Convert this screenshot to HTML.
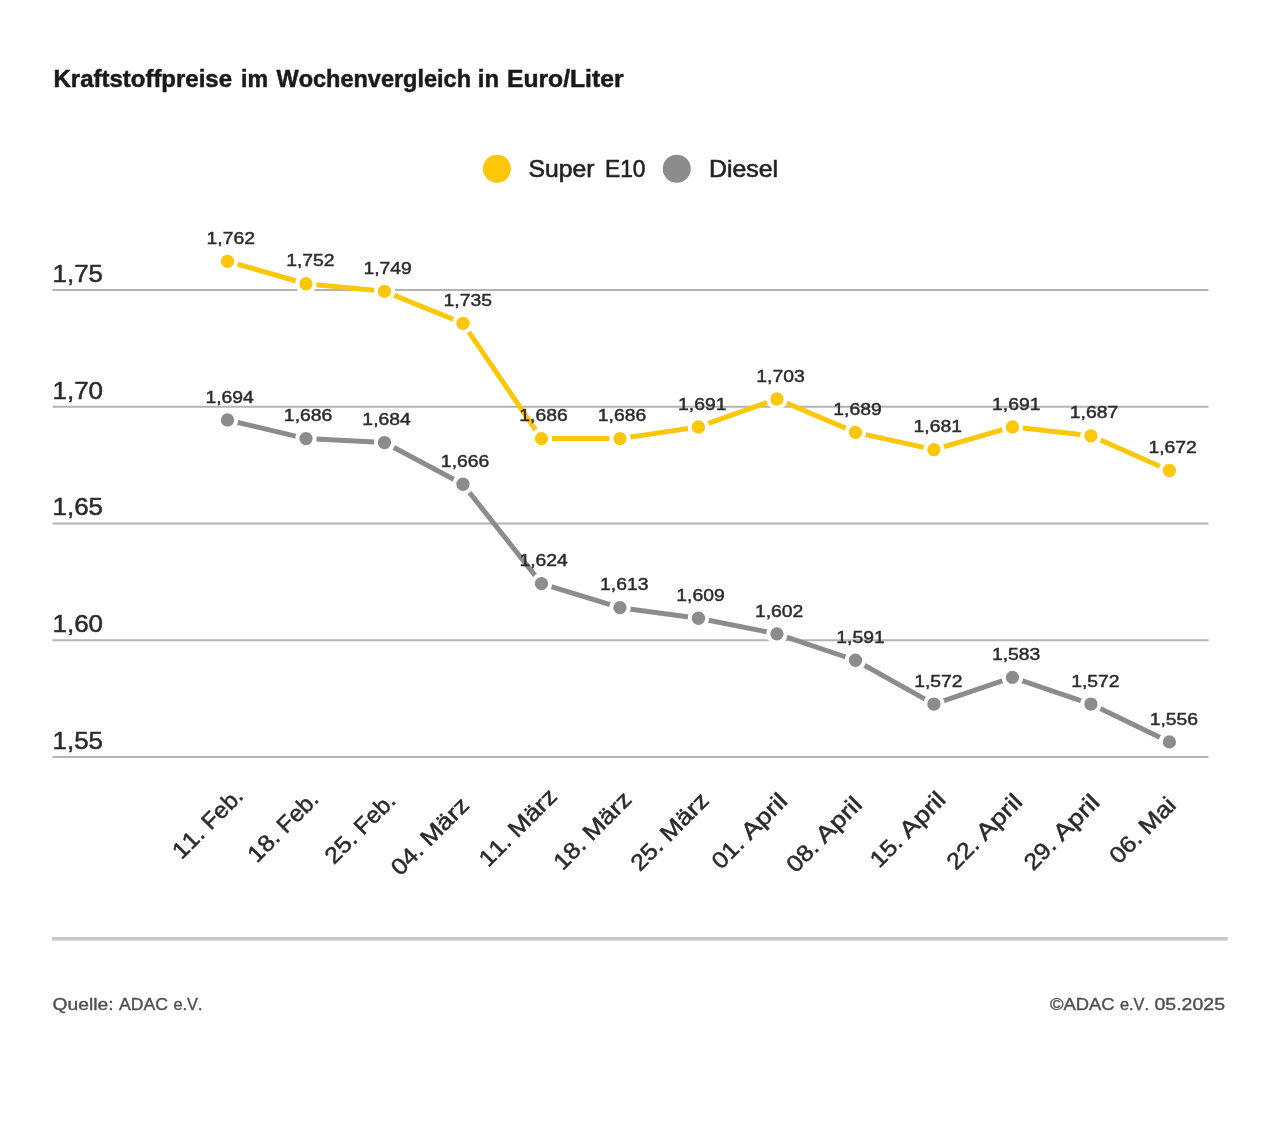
<!DOCTYPE html>
<html lang="de"><head><meta charset="utf-8"><title>Kraftstoffpreise im Wochenvergleich</title>
<style>html,body{margin:0;padding:0;background:#fff}svg{display:block}text{font-family:"Liberation Sans", sans-serif;font-kerning:none}</style></head><body>
<svg width="1280" height="1122" viewBox="0 0 1280 1122">
<rect width="1280" height="1122" fill="#fff"/>
<g font-size="24" font-weight="bold" fill="#1a1a1a" stroke="#1a1a1a" stroke-width="0.5">
<text y="86.75"><tspan x="53.50" textLength="178.50" lengthAdjust="spacingAndGlyphs">Kraftstoffpreise</tspan> <tspan x="241.00" textLength="27.00" lengthAdjust="spacingAndGlyphs">im</tspan> <tspan x="276.50" textLength="194.50" lengthAdjust="spacingAndGlyphs">Wochenvergleich</tspan> <tspan x="477.75" textLength="21.25" lengthAdjust="spacingAndGlyphs">in</tspan> <tspan x="507.00" textLength="116.50" lengthAdjust="spacingAndGlyphs">Euro/Liter</tspan></text>
</g>
<circle cx="497" cy="168.75" r="14" fill="#fcc708"/>
<circle cx="676.75" cy="168.75" r="14" fill="#8c8c8c"/>
<g font-size="24" fill="#222" stroke="#222" stroke-width="0.6">
<text y="177"><tspan x="528.5" textLength="66" lengthAdjust="spacingAndGlyphs">Super</tspan> <tspan x="605" textLength="40.5" lengthAdjust="spacingAndGlyphs">E10</tspan></text>
<text x="709" y="177" textLength="69" lengthAdjust="spacingAndGlyphs">Diesel</text>
</g>
<g stroke="#b4b4b4" stroke-width="2">
<line x1="52.5" x2="1208.5" y1="290.00" y2="290.00"/>
<line x1="52.5" x2="1208.5" y1="406.75" y2="406.75"/>
<line x1="52.5" x2="1208.5" y1="523.50" y2="523.50"/>
<line x1="52.5" x2="1208.5" y1="640.25" y2="640.25"/>
<line x1="52.5" x2="1208.5" y1="757.00" y2="757.00"/>
</g>
<g font-size="24" fill="#2b2b2b" stroke="#2b2b2b" stroke-width="0.5">
<text x="52.5" y="281.80" textLength="50.5" lengthAdjust="spacingAndGlyphs">1,75</text>
<text x="52.5" y="398.55" textLength="50.5" lengthAdjust="spacingAndGlyphs">1,70</text>
<text x="52.5" y="515.30" textLength="50.5" lengthAdjust="spacingAndGlyphs">1,65</text>
<text x="52.5" y="632.05" textLength="50.5" lengthAdjust="spacingAndGlyphs">1,60</text>
<text x="52.5" y="748.80" textLength="50.5" lengthAdjust="spacingAndGlyphs">1,55</text>
</g>
<polyline points="227.50,419.95 305.99,438.61 384.48,442.53 462.98,484.27 541.47,583.66 619.96,607.67 698.45,618.25 776.94,633.83 855.43,660.25 933.93,704.07 1012.42,677.41 1090.91,704.07 1169.40,741.90" fill="none" stroke="#8c8c8c" stroke-width="5" stroke-linejoin="round"/>
<circle cx="227.50" cy="419.95" r="8.65" fill="#8c8c8c" stroke="#fff" stroke-width="4"/>
<circle cx="305.99" cy="438.61" r="8.65" fill="#8c8c8c" stroke="#fff" stroke-width="4"/>
<circle cx="384.48" cy="442.53" r="8.65" fill="#8c8c8c" stroke="#fff" stroke-width="4"/>
<circle cx="462.98" cy="484.27" r="8.65" fill="#8c8c8c" stroke="#fff" stroke-width="4"/>
<circle cx="541.47" cy="583.66" r="8.65" fill="#8c8c8c" stroke="#fff" stroke-width="4"/>
<circle cx="619.96" cy="607.67" r="8.65" fill="#8c8c8c" stroke="#fff" stroke-width="4"/>
<circle cx="698.45" cy="618.25" r="8.65" fill="#8c8c8c" stroke="#fff" stroke-width="4"/>
<circle cx="776.94" cy="633.83" r="8.65" fill="#8c8c8c" stroke="#fff" stroke-width="4"/>
<circle cx="855.43" cy="660.25" r="8.65" fill="#8c8c8c" stroke="#fff" stroke-width="4"/>
<circle cx="933.93" cy="704.07" r="8.65" fill="#8c8c8c" stroke="#fff" stroke-width="4"/>
<circle cx="1012.42" cy="677.41" r="8.65" fill="#8c8c8c" stroke="#fff" stroke-width="4"/>
<circle cx="1090.91" cy="704.07" r="8.65" fill="#8c8c8c" stroke="#fff" stroke-width="4"/>
<circle cx="1169.40" cy="741.90" r="8.65" fill="#8c8c8c" stroke="#fff" stroke-width="4"/>
<polyline points="227.50,261.30 305.99,283.73 384.48,291.33 462.98,323.29 541.47,438.61 619.96,438.61 698.45,426.95 776.94,398.95 855.43,432.36 933.93,449.68 1012.42,426.95 1090.91,435.78 1169.40,470.52" fill="none" stroke="#fcc708" stroke-width="5" stroke-linejoin="round"/>
<circle cx="227.50" cy="261.30" r="8.65" fill="#fcc708" stroke="#fff" stroke-width="4"/>
<circle cx="305.99" cy="283.73" r="8.65" fill="#fcc708" stroke="#fff" stroke-width="4"/>
<circle cx="384.48" cy="291.33" r="8.65" fill="#fcc708" stroke="#fff" stroke-width="4"/>
<circle cx="462.98" cy="323.29" r="8.65" fill="#fcc708" stroke="#fff" stroke-width="4"/>
<circle cx="541.47" cy="438.61" r="8.65" fill="#fcc708" stroke="#fff" stroke-width="4"/>
<circle cx="619.96" cy="438.61" r="8.65" fill="#fcc708" stroke="#fff" stroke-width="4"/>
<circle cx="698.45" cy="426.95" r="8.65" fill="#fcc708" stroke="#fff" stroke-width="4"/>
<circle cx="776.94" cy="398.95" r="8.65" fill="#fcc708" stroke="#fff" stroke-width="4"/>
<circle cx="855.43" cy="432.36" r="8.65" fill="#fcc708" stroke="#fff" stroke-width="4"/>
<circle cx="933.93" cy="449.68" r="8.65" fill="#fcc708" stroke="#fff" stroke-width="4"/>
<circle cx="1012.42" cy="426.95" r="8.65" fill="#fcc708" stroke="#fff" stroke-width="4"/>
<circle cx="1090.91" cy="435.78" r="8.65" fill="#fcc708" stroke="#fff" stroke-width="4"/>
<circle cx="1169.40" cy="470.52" r="8.65" fill="#fcc708" stroke="#fff" stroke-width="4"/>
<g font-size="17" fill="#2b2b2b" stroke="#2b2b2b" stroke-width="0.45" text-anchor="middle">
<text x="229.60" y="402.65" textLength="48.4" lengthAdjust="spacingAndGlyphs">1,694</text>
<text x="308.09" y="421.31" textLength="48.4" lengthAdjust="spacingAndGlyphs">1,686</text>
<text x="386.58" y="425.23" textLength="48.4" lengthAdjust="spacingAndGlyphs">1,684</text>
<text x="465.08" y="466.97" textLength="48.4" lengthAdjust="spacingAndGlyphs">1,666</text>
<text x="543.67" y="566.36" textLength="48.4" lengthAdjust="spacingAndGlyphs">1,624</text>
<text x="624.21" y="590.37" textLength="48.4" lengthAdjust="spacingAndGlyphs">1,613</text>
<text x="700.55" y="600.95" textLength="48.4" lengthAdjust="spacingAndGlyphs">1,609</text>
<text x="779.14" y="616.53" textLength="48.4" lengthAdjust="spacingAndGlyphs">1,602</text>
<text x="860.48" y="642.95" textLength="48.4" lengthAdjust="spacingAndGlyphs">1,591</text>
<text x="938.38" y="686.77" textLength="48.4" lengthAdjust="spacingAndGlyphs">1,572</text>
<text x="1016.12" y="660.11" textLength="48.4" lengthAdjust="spacingAndGlyphs">1,583</text>
<text x="1095.36" y="686.77" textLength="48.4" lengthAdjust="spacingAndGlyphs">1,572</text>
<text x="1173.90" y="724.60" textLength="48.4" lengthAdjust="spacingAndGlyphs">1,556</text>
<text x="230.75" y="244.00" textLength="48.4" lengthAdjust="spacingAndGlyphs">1,762</text>
<text x="310.44" y="266.43" textLength="48.4" lengthAdjust="spacingAndGlyphs">1,752</text>
<text x="387.63" y="274.03" textLength="48.4" lengthAdjust="spacingAndGlyphs">1,749</text>
<text x="467.73" y="305.99" textLength="48.4" lengthAdjust="spacingAndGlyphs">1,735</text>
<text x="543.57" y="421.31" textLength="48.4" lengthAdjust="spacingAndGlyphs">1,686</text>
<text x="622.06" y="421.31" textLength="48.4" lengthAdjust="spacingAndGlyphs">1,686</text>
<text x="702.30" y="409.65" textLength="48.4" lengthAdjust="spacingAndGlyphs">1,691</text>
<text x="780.49" y="381.65" textLength="48.4" lengthAdjust="spacingAndGlyphs">1,703</text>
<text x="857.53" y="415.06" textLength="48.4" lengthAdjust="spacingAndGlyphs">1,689</text>
<text x="937.78" y="432.38" textLength="48.4" lengthAdjust="spacingAndGlyphs">1,681</text>
<text x="1016.27" y="409.65" textLength="48.4" lengthAdjust="spacingAndGlyphs">1,691</text>
<text x="1094.06" y="418.48" textLength="48.4" lengthAdjust="spacingAndGlyphs">1,687</text>
<text x="1172.65" y="453.22" textLength="48.4" lengthAdjust="spacingAndGlyphs">1,672</text>
</g>
<g font-size="23" fill="#2b2b2b" stroke="#2b2b2b" stroke-width="0.5">
<text transform="translate(203.65 838.15) rotate(-45)"><tspan x="-31.37" y="0" textLength="34.86" lengthAdjust="spacingAndGlyphs">11.</tspan> <tspan x="10.00" y="0" textLength="47.80" lengthAdjust="spacingAndGlyphs">Feb.</tspan></text>
<text transform="translate(279.00 841.50) rotate(-45)"><tspan x="-31.37" y="0" textLength="34.86" lengthAdjust="spacingAndGlyphs">18.</tspan> <tspan x="10.00" y="0" textLength="47.80" lengthAdjust="spacingAndGlyphs">Feb.</tspan></text>
<text transform="translate(356.15 843.00) rotate(-45)"><tspan x="-31.37" y="0" textLength="34.86" lengthAdjust="spacingAndGlyphs">25.</tspan> <tspan x="10.00" y="0" textLength="47.80" lengthAdjust="spacingAndGlyphs">Feb.</tspan></text>
<text transform="translate(422.40 854.65) rotate(-45)"><tspan x="-31.37" y="0" textLength="34.86" lengthAdjust="spacingAndGlyphs">04.</tspan> <tspan x="10.00" y="0" textLength="58.10" lengthAdjust="spacingAndGlyphs">März</tspan></text>
<text transform="translate(510.30 845.90) rotate(-45)"><tspan x="-31.37" y="0" textLength="34.86" lengthAdjust="spacingAndGlyphs">11.</tspan> <tspan x="10.00" y="0" textLength="58.10" lengthAdjust="spacingAndGlyphs">März</tspan></text>
<text transform="translate(584.90 849.00) rotate(-45)"><tspan x="-31.37" y="0" textLength="34.86" lengthAdjust="spacingAndGlyphs">18.</tspan> <tspan x="10.00" y="0" textLength="58.10" lengthAdjust="spacingAndGlyphs">März</tspan></text>
<text transform="translate(662.15 850.00) rotate(-45)"><tspan x="-31.37" y="0" textLength="34.86" lengthAdjust="spacingAndGlyphs">25.</tspan> <tspan x="10.00" y="0" textLength="58.10" lengthAdjust="spacingAndGlyphs">März</tspan></text>
<text transform="translate(743.15 848.15) rotate(-45)"><tspan x="-31.37" y="0" textLength="34.86" lengthAdjust="spacingAndGlyphs">01.</tspan> <tspan x="10.00" y="0" textLength="54.50" lengthAdjust="spacingAndGlyphs">April</tspan></text>
<text transform="translate(817.80 851.50) rotate(-45)"><tspan x="-31.37" y="0" textLength="34.86" lengthAdjust="spacingAndGlyphs">08.</tspan> <tspan x="10.00" y="0" textLength="54.50" lengthAdjust="spacingAndGlyphs">April</tspan></text>
<text transform="translate(901.50 846.50) rotate(-45)"><tspan x="-31.37" y="0" textLength="34.86" lengthAdjust="spacingAndGlyphs">15.</tspan> <tspan x="10.00" y="0" textLength="54.50" lengthAdjust="spacingAndGlyphs">April</tspan></text>
<text transform="translate(978.15 848.80) rotate(-45)"><tspan x="-31.37" y="0" textLength="34.86" lengthAdjust="spacingAndGlyphs">22.</tspan> <tspan x="10.00" y="0" textLength="54.50" lengthAdjust="spacingAndGlyphs">April</tspan></text>
<text transform="translate(1055.30 849.40) rotate(-45)"><tspan x="-31.37" y="0" textLength="34.86" lengthAdjust="spacingAndGlyphs">29.</tspan> <tspan x="10.00" y="0" textLength="54.50" lengthAdjust="spacingAndGlyphs">April</tspan></text>
<text transform="translate(1140.90 842.80) rotate(-45)"><tspan x="-31.37" y="0" textLength="34.86" lengthAdjust="spacingAndGlyphs">06.</tspan> <tspan x="10.00" y="0" textLength="41.56" lengthAdjust="spacingAndGlyphs">Mai</tspan></text>
</g>
<rect x="52" y="937" width="1175.7" height="3.6" fill="#c9c9c9"/>
<g font-size="17" fill="#505050" stroke="#505050" stroke-width="0.4">
<text y="1010.2"><tspan x="52.5" textLength="61" lengthAdjust="spacingAndGlyphs">Quelle:</tspan> <tspan x="119" textLength="49" lengthAdjust="spacingAndGlyphs">ADAC</tspan> <tspan x="173.5" textLength="29" lengthAdjust="spacingAndGlyphs">e.V.</tspan></text>
<text y="1010.2"><tspan x="1050" textLength="64.5" lengthAdjust="spacingAndGlyphs">©ADAC</tspan> <tspan x="1120" textLength="29" lengthAdjust="spacingAndGlyphs">e.V.</tspan> <tspan x="1154.5" textLength="70.5" lengthAdjust="spacingAndGlyphs">05.2025</tspan></text>
</g>
</svg></body></html>
